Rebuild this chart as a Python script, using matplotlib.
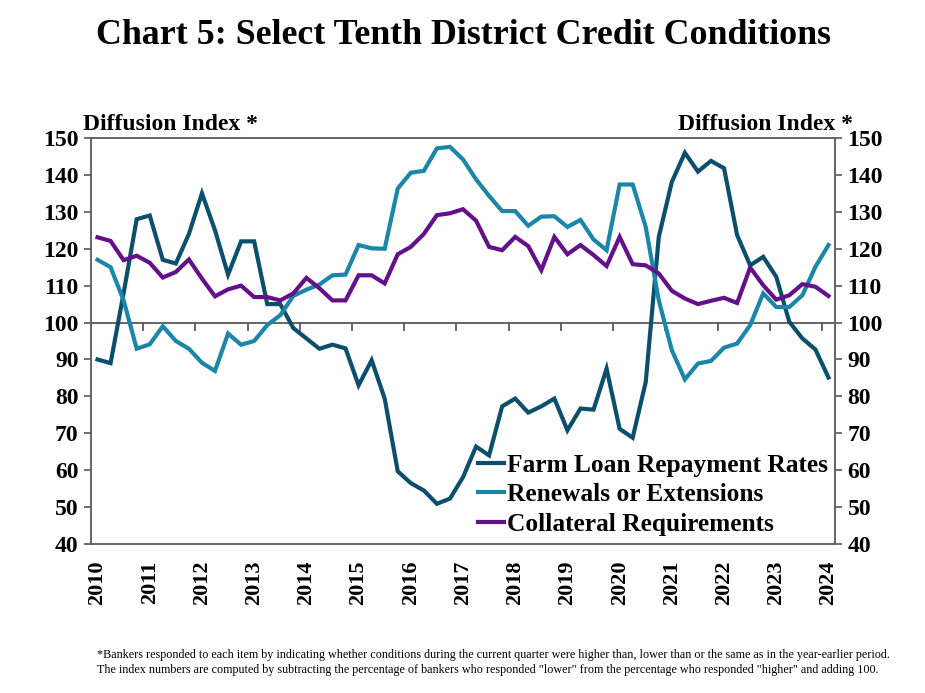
import matplotlib
matplotlib.use("Agg")
import matplotlib.pyplot as plt
import numpy as np

years = list(range(2010, 2025))

farm_loan = [90, 89, 108, 128, 129, 117, 116, 124, 135, 125, 113, 122, 122, 105, 105, 98.5,
             95.7, 92.9, 94, 93, 83, 89.8, 79.4, 59.7, 56.5, 54.5, 50.9, 52.3, 58.1, 66.4,
             64, 77.3, 79.4, 75.6, 77.3, 79.4, 70.8, 76.7, 76.4, 87.5, 71.2, 68.8, 83.9, 123.2,
             138.1, 146, 140.9, 143.8, 141.8, 123.7, 115.5, 117.8, 112.4, 100.2, 95.7, 92.7, 85.1]
renewals = [117, 115, 106, 92.9, 94.1, 99, 95, 92.9, 89.1, 86.9, 97, 94, 95, 99.3, 102, 107.2,
            108.9, 110.3, 112.8, 113, 121, 120.1, 120, 136.3, 140.6, 141.1, 147.2, 147.6, 144.2, 138.8,
            134.3, 130.2, 130.2, 126.2, 128.7, 128.8, 125.9, 127.8, 122.5, 119.6, 137.4, 137.4, 125.9, 106,
            92.5, 84.6, 88.9, 89.6, 93.2, 94.3, 99.3, 107.9, 104.2, 104.2, 107.4, 115.1, 121]
collateral = [123.1, 122.1, 116.9, 118.1, 116.2, 112.2, 113.7, 117.1, 111.9, 107.1, 109, 110, 106.9, 106.9, 106, 107.9,
              112.1, 109.3, 106, 106, 112.8, 112.8, 110.6, 118.5, 120.5, 124, 129.1, 129.6, 130.7, 127.6,
              120.5, 119.6, 123.2, 120.7, 114.2, 123.2, 118.5, 121, 118.3, 115.3, 123.2, 115.8, 115.5, 113.3,
              108.6, 106.5, 105, 105.9, 106.7, 105.3, 114.9, 110.1, 106.2, 107.4, 110.4, 109.7, 107.2]

series_names = ["Farm Loan Repayment Rates", "Renewals or Extensions", "Collateral Requirements"]
colors = ["#0C4F6C", "#1A86A8", "#64108A"]
yticks = list(range(40, 151, 10))

plt.rcParams['font.family'] = ['Liberation Serif', 'DejaVu Serif']

fig = plt.figure(figsize=(9.25, 6.93), dpi=100)
ax = fig.add_axes([91/925, 1-544/693, (835-91)/925, (544-138)/693])

x = np.arange(len(farm_loan))
for vals, name, c in zip([farm_loan, renewals, collateral], series_names, colors):
    ax.plot(x, vals, color=c, lw=3.0, label=name, solid_joinstyle='miter')

ax.set_xlim(-0.5, len(farm_loan) - 0.5)
ax.set_ylim(40, 150)
ax.set_yticks(yticks)
ax.set_yticklabels([str(v) for v in yticks], fontsize=17, fontweight='bold')
ax.tick_params(axis='y', direction='out', length=5, width=1.2, color='#595959', pad=4,
               left=True, right=True, labelleft=True, labelright=True)

# year labels at Q1 of each year
ax.set_xticks([4 * i for i in range(len(years))])
ax.set_xticklabels([str(y) for y in years], rotation=90, fontsize=16, fontweight='bold')
ax.tick_params(axis='x', length=0, pad=12)

# horizontal axis line at 100 with tick marks between years
ax.axhline(100, color='#595959', lw=1.3, zorder=1)
for k in range(1, len(years)):
    xb = 4 * k - 0.5
    ax.plot([xb, xb], [100, 98], color='#595959', lw=1.3, zorder=1)

for s in ax.spines.values():
    s.set_color('#595959')
    s.set_linewidth(1.3)

fig.text(463/925, 1-35/693, "Chart 5: Select Tenth District Credit Conditions", fontsize=25.8,
         fontweight='bold', ha='center', va='center')
fig.text(83/925, 1-125/693, "Diffusion Index *", fontsize=17, fontweight='bold',
         ha='left', va='center')
fig.text(853/925, 1-125/693, "Diffusion Index *", fontsize=17, fontweight='bold',
         ha='right', va='center')

leg = ax.legend(loc='lower right', bbox_to_anchor=(1.004, -0.005), frameon=False,
                prop={'size': 18.3, 'weight': 'bold'}, handlelength=1.0, handletextpad=0.12,
                labelspacing=0.26, borderaxespad=0.0)
for t in leg.get_texts():
    t.set_color('black')

fig.text(97/925, 1-655/693,
         '*Bankers responded to each item by indicating whether conditions during the current quarter were higher than, lower than or the same as in the year-earlier period.',
         fontsize=8.75, ha='left', va='center')
fig.text(97/925, 1-670/693,
         'The index numbers are computed by subtracting the percentage of bankers who responded "lower" from the percentage who responded "higher" and adding 100.',
         fontsize=8.75, ha='left', va='center')

fig.savefig("out.png", dpi=100)
